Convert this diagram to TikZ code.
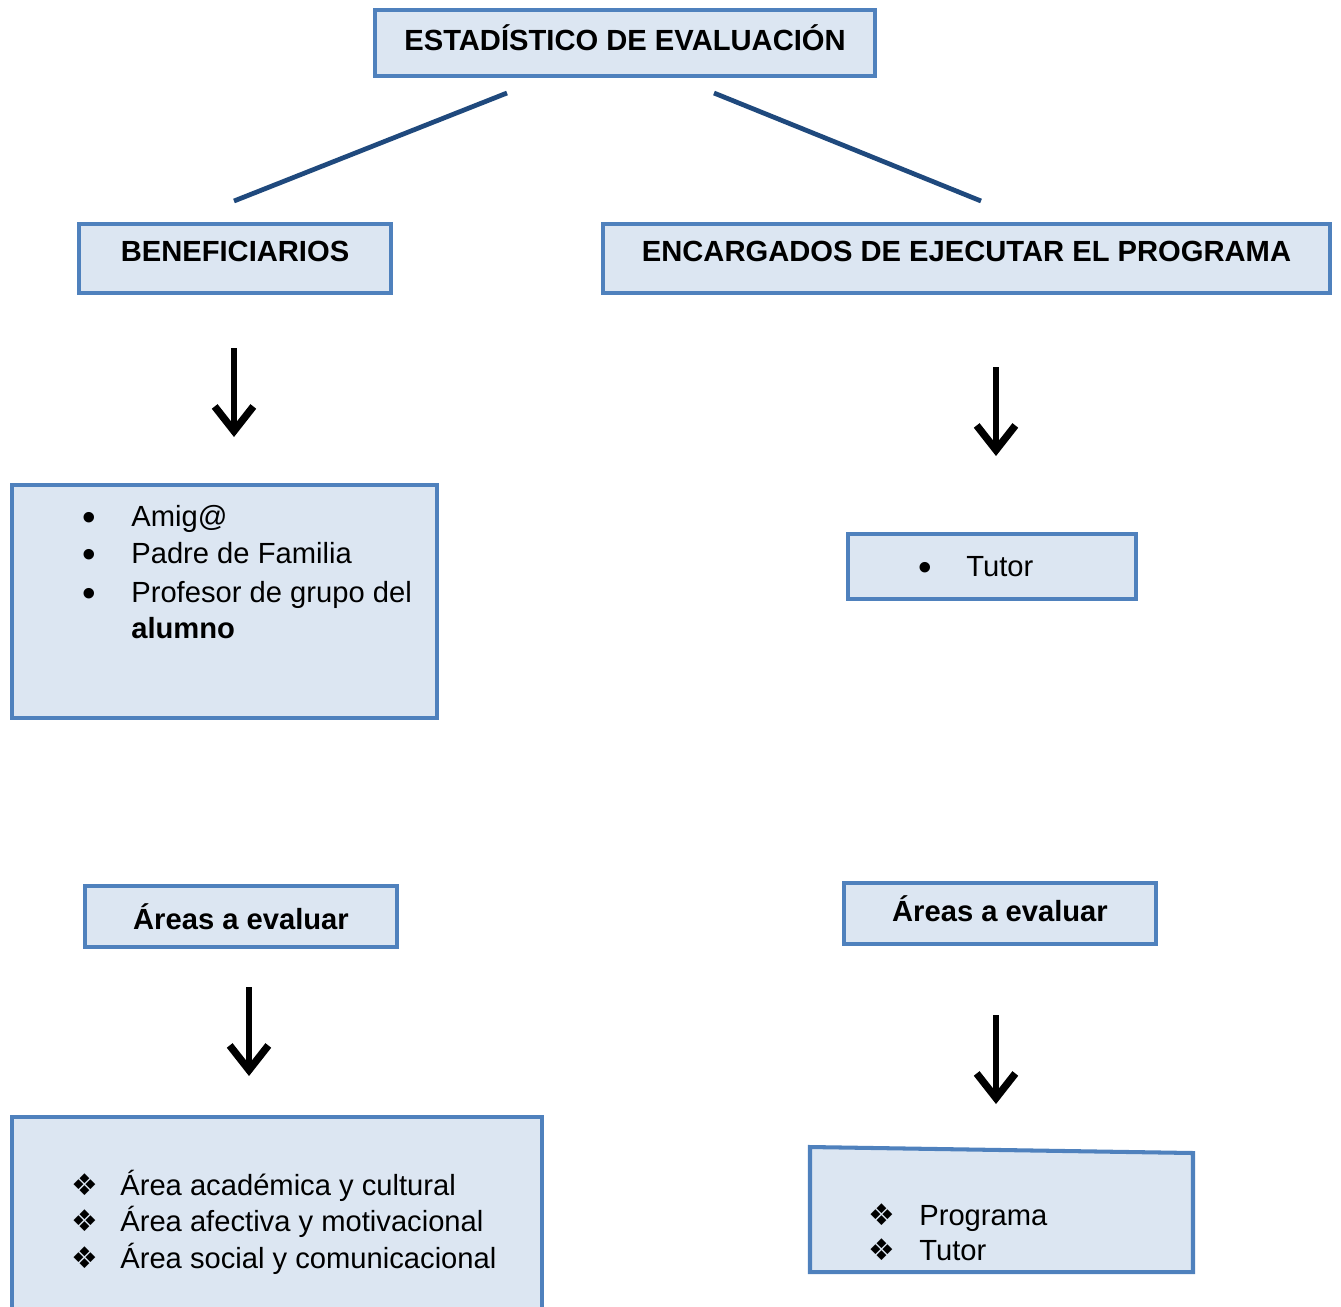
\documentclass[tikz,border=0pt]{standalone}
\usepackage{fontspec}
\setmainfont{Liberation Sans}
\newfontfamily\symfont{DejaVu Sans}
\usetikzlibrary{arrows.meta}
\definecolor{boxfill}{HTML}{DCE6F2}
\definecolor{boxline}{HTML}{4F81BD}
\definecolor{linkblue}{HTML}{1F497D}
\tikzstyle{box}=[rectangle, draw=boxline, fill=boxfill, line width=2.3pt,
                 inner sep=0pt, font=\fontsize{16.6}{20}\selectfont\bfseries]
\tikzstyle{txt}=[inner sep=0pt, anchor=base west, font=\fontsize{16.6}{20}\selectfont]
\tikzstyle{bul}=[inner sep=0pt, anchor=base]
\tikzstyle{link}=[draw=linkblue, line width=2.7pt]
\tikzstyle{down}=[line width=3.2pt, -{Straight Barb[length=14pt, width=22pt, line width=4.2pt]}]
\newcommand{\bigdot}{{\fontsize{22}{22}\selectfont •}}
\newcommand{\dia}{{\symfont\fontsize{17}{17}\selectfont ❖}}

\begin{document}
\begin{tikzpicture}[x=0.02cm, y=-0.02cm]
      \useasboundingbox (0,0) rectangle (1341,1306);

      % upper part
      \node[box, minimum width=10cm, minimum height=1.32cm, text depth=6pt] (title) at (625,43) {ESTADÍSTICO DE EVALUACIÓN};

      \coordinate (t1) at (507,93);
      \coordinate (t2) at (714,93);
      \coordinate (b1) at (234,201);
      \coordinate (b2) at (981,201);
      \draw[link] (t1) -- (b1);
      \draw[link] (t2) -- (b2);

      \node[box, minimum width=6.24cm, minimum height=1.38cm, text depth=8pt] (benef) at (235,258.5) {BENEFICIARIOS};
      \node[box, minimum width=14.54cm, minimum height=1.38cm, text depth=8pt] (encarg) at (966.5,258.5) {ENCARGADOS DE EJECUTAR EL PROGRAMA};

      \coordinate (p1) at (234,348);
      \coordinate (q1) at (234,437);
      \coordinate (p2) at (996,367);
      \coordinate (q2) at (996,456);
      \draw[down] (p1) -- (q1);
      \draw[down] (p2) -- (q2);

      % left list
      \node[box, minimum width=8.5cm, minimum height=4.66cm] (benlist) at (224.5,601.5) {};
      \node[bul] (m1) at (89,530) {\bigdot};
      \node[bul] (m2) at (89,567) {\bigdot};
      \node[bul] (m3) at (89,606) {\bigdot};
      \node[txt] (l1) at (131,526) {Amig@};
      \node[txt] (l2) at (131,563) {Padre de Familia};
      \node[txt] (l3) at (131,602) {Profesor de grupo del};
      \node[txt] (l4) at (131,638) {\bfseries alumno};

      % right list
      \node[box, minimum width=5.76cm, minimum height=1.3cm] (tutbox) at (992,566.5) {};
      \node[bul] (m4) at (925,580) {\bigdot};
      \node[txt] (l5) at (966,576) {Tutor};

      % lower part
      \node[box, minimum width=6.24cm, minimum height=1.22cm] (areas1) at (241,916.5) {Áreas a evaluar};
      \node[box, minimum width=6.24cm, minimum height=1.22cm, text depth=6pt] (areas2) at (1000,913.5) {Áreas a evaluar};

      \coordinate (p3) at (249,987);
      \coordinate (q3) at (249,1076);
      \coordinate (p4) at (996,1015);
      \coordinate (q4) at (996,1104);
      \draw[down] (p3) -- (q3);
      \draw[down] (p4) -- (q4);

      \node[box, minimum width=10.6cm, minimum height=3.9cm] (arlist) at (277,1214.5) {};
      \node[bul] (d1) at (85,1195) {\dia};
      \node[bul] (d2) at (85,1231) {\dia};
      \node[bul] (d3) at (85,1268) {\dia};
      \node[txt] (a1) at (120,1195) {Área académica y cultural};
      \node[txt] (a2) at (120,1231) {Área afectiva y motivacional};
      \node[txt] (a3) at (120,1268) {Área social y comunicacional};

      \filldraw[draw=boxline, fill=boxfill, line width=2.3pt] (810,1147) -- (1193,1153) -- (1193,1272) -- (810,1272) -- cycle;
      \node[bul] (d4) at (882,1225) {\dia};
      \node[bul] (d5) at (882,1260) {\dia};
      \node[txt] (a4) at (919,1225) {Programa};
      \node[txt] (a5) at (919,1260) {Tutor};
\end{tikzpicture}
\end{document}
